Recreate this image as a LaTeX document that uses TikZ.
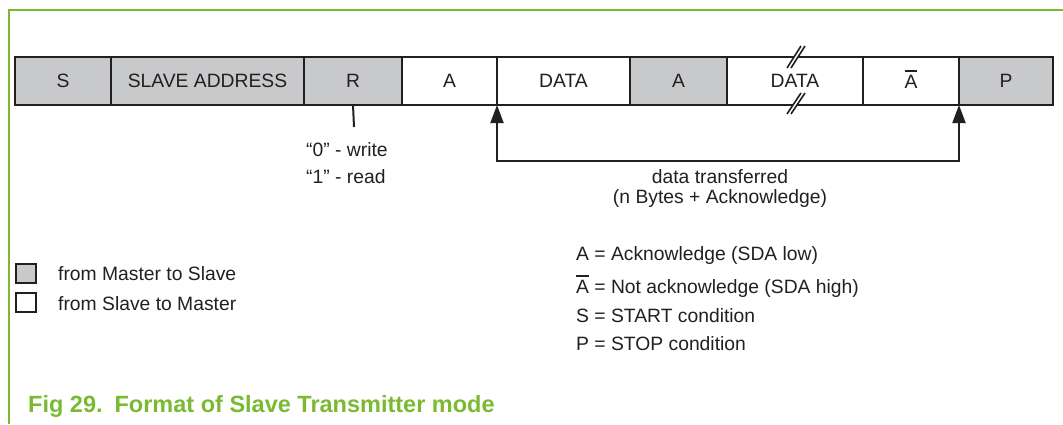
\documentclass[tikz,border=0pt]{standalone}
\usepackage{fontspec}
\setmainfont{Liberation Sans}
\usetikzlibrary{arrows.meta}
\definecolor{nxpgreen}{RGB}{122,186,50}
\definecolor{boxgray}{RGB}{200,201,203}
\definecolor{ink}{RGB}{35,31,32}
\newcommand{\nack}{\begingroup\setbox0\hbox{A}\leavevmode\rlap{\rule[\dimexpr\ht0+3.5pt\relax]{\wd0}{1.8pt}}\box0\endgroup}
\begin{document}
\begin{tikzpicture}[x=1pt,y=-1pt,
  font=\fontsize{19.3}{23}\selectfont, text=ink,
  field/.style={draw=ink, line width=2pt, minimum height=48pt, inner sep=0pt, outer sep=0pt, anchor=north west},
  mfield/.style={field, fill=boxgray},
  sfield/.style={field, fill=white},
  txt/.style={inner sep=0pt, anchor=west},
  arr/.style={draw=ink, line width=2pt, {Triangle[length=18pt,width=13pt]}-{Triangle[length=18pt,width=13pt]}},
  legbox/.style={draw=ink, line width=2pt, minimum width=20pt, minimum height=19pt, inner sep=0pt}]
\useasboundingbox (0,0) rectangle (1063,424);
% frame
\draw[nxpgreen, line width=1.5pt] (1063,10) -- (9,10) -- (9,424);
% fields
\node[mfield, minimum width=96pt]  (s)  at (15,57)  {S};
\node[mfield, minimum width=193pt] (sa) at (111,57) {SLAVE ADDRESS};
\node[mfield, minimum width=98pt]  (r)  at (304,57) {R};
\node[sfield, minimum width=95pt]  (a1) at (402,57) {A};
\node[sfield, minimum width=133pt] (d1) at (497,57) {DATA};
\node[mfield, minimum width=97pt]  (a2) at (630,57) {A};
\node[sfield, minimum width=136pt] (d2) at (727,57) {DATA};
\node[sfield, minimum width=96pt]  (na) at (863,57) {\raisebox{3pt}{\nack}};
\node[mfield, minimum width=94pt]  (p)  at (959,57) {P};
% break marks
\fill[white] (787,68) -- (801,46) -- (805,46) -- (791,68) -- cycle;
\draw[ink, line width=1.6pt] (787,68) -- (801,46) (791,68) -- (805,46);
\fill[white] (787,114) -- (801,93) -- (805,93) -- (791,114) -- cycle;
\draw[ink, line width=1.6pt] (787,114) -- (801,93) (791,114) -- (805,93);
% R tick
\coordinate (rt) at (354,127);
\draw[ink, line width=2pt] (r.south) -- (rt);
\node[txt] (w0) at (306,150) {“0” - write};
\node[txt] (w1) at (306,177) {“1” - read};
% data transferred arrow
\coordinate (c1) at (497,161);
\coordinate (c2) at (959,161);
\draw[arr] (d1.south west) -- (c1) -- (c2) -- (p.south west);
\node[inner sep=0pt] (dt1) at (720,177) {data transferred};
\node[inner sep=0pt] (dt2) at (720,199) {(n Bytes + Acknowledge)};
% legend left
\node[legbox, fill=boxgray] (lg1) at (25.5,273.5) {};
\node[legbox, fill=white]   (lg2) at (25.5,302.5) {};
\node[txt] (lt1) at (58,274) {from Master to Slave};
\node[txt] (lt2) at (58,304) {from Slave to Master};
% legend right
\node[txt] (k1) at (576,256) {A = Acknowledge (SDA low)};
\node[txt] (k2) at (576,286) {\nack{} = Not acknowledge (SDA high)};
\node[txt] (k3) at (576,316) {S = START condition};
\node[txt] (k4) at (576,344) {P = STOP condition};
% caption
\node[inner sep=0pt, anchor=base west, text=nxpgreen, font=\fontsize{23.5}{28}\selectfont\bfseries] (cap) at (28,412) {Fig 29.\hspace{12pt}Format of Slave Transmitter mode};
\end{tikzpicture}
\end{document}
